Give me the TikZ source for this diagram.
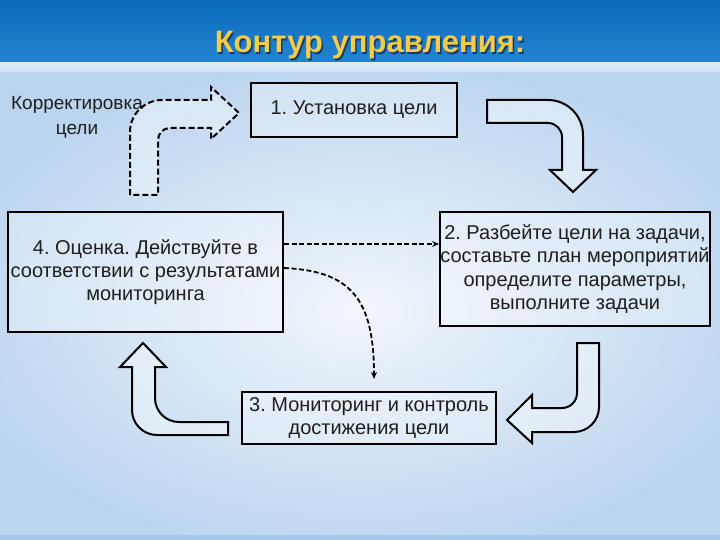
\documentclass[tikz,border=0pt]{standalone}
\usepackage{fontspec}
\setmainfont{Liberation Sans}
\usetikzlibrary{arrows.meta,calc}
\frenchspacing
\definecolor{hdrtop}{HTML}{0A6BBC}
\definecolor{hdrbot}{HTML}{2484D1}
\definecolor{hline}{HTML}{DCEAF7}
\definecolor{bgmid}{HTML}{F1F6FB}
\definecolor{bgedge}{HTML}{BCD5EF}
\definecolor{bgband}{HTML}{A6C8EC}
\definecolor{txt}{HTML}{1E1E1E}
\definecolor{ttl}{HTML}{F6CB48}
\definecolor{ttlshadow}{HTML}{1A3A66}
\tikzset{
  stagebox/.style={draw=black, line width=2pt, fill=white, fill opacity=0.3, text opacity=1,
    text=txt, align=center, inner sep=0pt, font=\fontsize{20}{23.3}\selectfont},
  plainlabel/.style={text=txt, align=center, inner sep=0pt, font=\fontsize{19}{25}\selectfont},
  blockarrow/.style={draw=black, line width=2pt, line join=miter, fill=white, fill opacity=0.4},
  dashedarrow/.style={blockarrow, dash pattern=on 6pt off 3pt},
  linkarrow/.style={draw=black, line width=1.8pt, dash pattern=on 5pt off 2.5pt,
    -{Stealth[length=7pt,width=6pt]}},
  titletext/.style={font=\fontsize{31}{36}\selectfont\bfseries, inner sep=0pt, anchor=base}
}
\begin{document}
\begin{tikzpicture}[x=1pt,y=-1pt]
\useasboundingbox (0,0) rectangle (720,540);
% ---------- background ----------
\begin{scope}
\clip (0,0) rectangle (720,540);
\shade[inner color=bgmid, outer color=bgedge] (-60,60) rectangle (780,560);
\shade[top color=hdrtop, bottom color=hdrbot] (0,0) rectangle (720,63);
\shade[top color=hline, bottom color=bgedge!70!white] (0,63) rectangle (720,72);
\fill[bgband] (0,535) rectangle (720,540);
\end{scope}
% ---------- title ----------
\node[titletext, text=ttlshadow] (titleshadow) at (371.5,54.5) {Контур управления:};
\node[titletext, text=ttl] (title) at (370,53) {Контур управления:};
% ---------- stages ----------
\node[stagebox, minimum width=206pt, minimum height=54pt] (b1) at (354,110) {1. Установка цели};
\node[stagebox, minimum width=270pt, minimum height=114pt] (b2) at (575,269)
  {2. Разбейте цели на задачи,\\составьте план мероприятий\\определите параметры,\\выполните задачи};
\node[stagebox, minimum width=254pt, minimum height=52pt] (b3) at (369,418)
  {3. Мониторинг и контроль\\достижения цели};
\node[stagebox, minimum width=275pt, minimum height=120pt] (b4) at (145.5,272)
  {4. Оценка. Действуйте в\\соответствии с результатами\\мониторинга};
\node[plainlabel] (corr) at (77,117) {Корректировка\\цели};
% ---------- block arrows ----------
% correction (dashed), from left up to stage 1
\draw[dashedarrow] (130,195) -- (130,132)
  .. controls (130,114.3) and (144.3,100) .. (162,100)
  -- (211,100) -- (211,87) -- (239,113) -- (211,139) -- (211,128) -- (170,128)
  .. controls (163.4,128) and (158,133.4) .. (158,140)
  -- (158,195) -- cycle;
% stage 1 -> stage 2
\draw[blockarrow] (487,100) -- (548,100)
  .. controls (567.3,100) and (583,115.7) .. (583,135)
  -- (583,170) -- (596,170) -- (573,192) -- (550,170) -- (562,170) -- (562,137)
  .. controls (562,129.3) and (555.7,123) .. (548,123)
  -- (487,123) -- cycle;
% stage 2 -> stage 3
\draw[blockarrow] (577,343) -- (599,343) -- (599,407)
  .. controls (599,420.8) and (587.8,432) .. (574,432)
  -- (532,432) -- (532,443) -- (507,420) -- (532,395) -- (532,408) -- (562,408)
  .. controls (570.3,408) and (577,401.3) .. (577,393)
  -- cycle;
% stage 3 -> stage 4
\draw[blockarrow] (143,343) -- (166,367) -- (155,367) -- (155,398)
  .. controls (155,411.3) and (165.7,422) .. (179,422)
  -- (228,422) -- (228,435) -- (157,435)
  .. controls (143.2,435) and (132,423.8) .. (132,410)
  -- (132,367) -- (120,367) -- cycle;
% ---------- dashed links ----------
\draw[linkarrow] (b4.east |- 0,244) -- (b2.west |- 0,244);
\draw[linkarrow] (b4.east |- 0,268) .. controls (350,271) and (374,298) .. ($(b3.north west)+(133,-12)$);
\end{tikzpicture}
\end{document}
